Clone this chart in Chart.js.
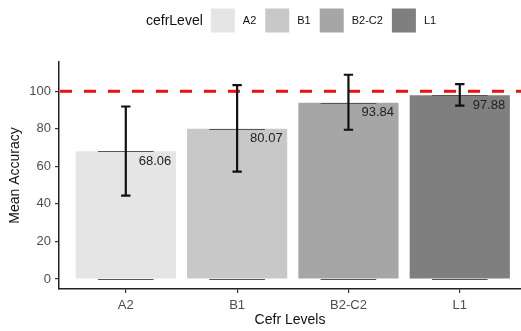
<!DOCTYPE html>
<html>
<head>
<meta charset="utf-8">
<script src="https://cdn.jsdelivr.net/npm/chart.js@4.4.0/dist/chart.umd.min.js"></script>
<style>
  html, body { margin: 0; padding: 0; background: #fff; }
  #wrap { width: 521px; height: 331px; }
</style>
</head>
<body>
<div id="wrap"><canvas id="grafico"></canvas></div>
<script>
const categories = ['A2', 'B1', 'B2-C2', 'L1'];
const meanAccuracy = [68.06, 80.07, 93.84, 97.88];
const errorLow = [44.4, 57.2, 79.5, 92.4];
const errorHigh = [91.9, 103.3, 108.8, 103.8];
const yTicks = [0, 20, 40, 60, 80, 100];
const referenceLine = 100;
const fillColors = ['#e5e5e5', '#c8c8c8', '#a6a6a6', '#7f7f7f'];
const legendTitle = 'cefrLevel';

const FONT = '"Liberation Sans", Arial, sans-serif';

// barras de erro, linhas de média, linha de referência e rótulos
const overlay = {
  id: 'overlay',
  afterDatasetsDraw(chart) {
    const { ctx, chartArea } = chart;
    const x = chart.scales.x, y = chart.scales.y;
    const step = x.getPixelForValue(1) - x.getPixelForValue(0);
    ctx.save();

    ctx.strokeStyle = '#555';
    ctx.lineWidth = 1;
    categories.forEach((c, i) => {
      const cx = x.getPixelForValue(i);
      [0, meanAccuracy[i]].forEach(v => {
        const py = Math.round(y.getPixelForValue(v)) + 0.5;
        ctx.beginPath();
        ctx.moveTo(cx - step * 0.25, py);
        ctx.lineTo(cx + step * 0.25, py);
        ctx.stroke();
      });
    });

    const ry = y.getPixelForValue(referenceLine);
    ctx.strokeStyle = '#ee1111';
    ctx.lineWidth = 3;
    ctx.setLineDash([12, 12]);
    ctx.beginPath();
    ctx.moveTo(chartArea.left + 1, ry);
    ctx.lineTo(chartArea.right, ry);
    ctx.stroke();
    ctx.setLineDash([]);

    ctx.strokeStyle = '#111';
    ctx.lineWidth = 2.2;
    const cap = step * 0.042;
    categories.forEach((c, i) => {
      const cx = x.getPixelForValue(i);
      const top = y.getPixelForValue(errorHigh[i]);
      const bot = y.getPixelForValue(errorLow[i]);
      ctx.beginPath();
      ctx.moveTo(cx, top); ctx.lineTo(cx, bot);
      ctx.moveTo(cx - cap, top); ctx.lineTo(cx + cap, top);
      ctx.moveTo(cx - cap, bot); ctx.lineTo(cx + cap, bot);
      ctx.stroke();
    });

    ctx.fillStyle = '#222';
    ctx.font = '13px ' + FONT;
    ctx.textAlign = 'left';
    ctx.textBaseline = 'middle';
    categories.forEach((c, i) => {
      const cx = x.getPixelForValue(i);
      const py = y.getPixelForValue(meanAccuracy[i]);
      ctx.fillText(meanAccuracy[i].toFixed(2), cx + 13, py + 10);
    });
    ctx.restore();
  }
};

// legenda horizontal no topo
const topLegend = {
  id: 'topLegend',
  afterDraw(chart) {
    const ctx = chart.ctx;
    ctx.save();
    ctx.textBaseline = 'middle';
    ctx.textAlign = 'left';
    ctx.fillStyle = '#111';
    ctx.font = '14px ' + FONT;
    let lx = 146;
    const cy = 21;
    ctx.fillText(legendTitle, lx, cy);
    lx += ctx.measureText(legendTitle).width + 8;
    ctx.font = '11px ' + FONT;
    categories.forEach((c, i) => {
      ctx.fillStyle = fillColors[i];
      ctx.fillRect(lx, 8.5, 24, 24);
      lx += 24 + 8;
      ctx.fillStyle = '#111';
      ctx.fillText(c, lx, cy);
      lx += ctx.measureText(c).width + 9;
    });
    ctx.restore();
  }
};

new Chart(document.getElementById('grafico'), {
  type: 'bar',
  data: {
    datasets: [{
      label: legendTitle,
      data: categories.map((c, i) => ({ x: i, y: meanAccuracy[i] })),
      backgroundColor: fillColors,
      borderWidth: 0,
      barPercentage: 0.9,
      categoryPercentage: 1
    }]
  },
  options: {
    responsive: true,
    maintainAspectRatio: false,
    animation: false,
    devicePixelRatio: 1,
    layout: { padding: { top: 62, left: 0, right: 0, bottom: 0 } },
    plugins: {
      legend: { display: false },
      tooltip: { enabled: false }
    },
    scales: {
      x: {
        type: 'linear',
        min: -0.6,
        max: 3.55,
        offset: false,
        afterBuildTicks: s => { s.ticks = categories.map((c, i) => ({ value: i })); },
        afterFit: s => { s.height = 42; },
        ticks: {
          callback: v => categories[v] ?? '',
          font: { size: 13, family: FONT },
          color: '#4d4d4d',
          padding: 5,
          maxRotation: 0,
          autoSkip: false
        },
        grid: { display: true, drawOnChartArea: false, drawTicks: true, tickLength: 4, color: '#333', lineWidth: 1.2, offset: false },
        border: { display: true, color: '#222', width: 1.5 },
        title: { display: true, text: 'Cefr Levels', font: { size: 14, family: FONT }, color: '#111', padding: { top: 0, bottom: 2 } }
      },
      y: {
        min: -5.33,
        max: 115.6,
        afterBuildTicks: s => { s.ticks = yTicks.map(v => ({ value: v })); },
        afterFit: s => { s.width = 59; },
        ticks: {
          font: { size: 13, family: FONT },
          color: '#4d4d4d',
          padding: 4
        },
        grid: { display: true, drawOnChartArea: false, drawTicks: true, tickLength: 4, color: '#333', lineWidth: 1.2 },
        border: { display: true, color: '#222', width: 1.5 },
        title: { display: true, text: 'Mean Accuracy', font: { size: 14, family: FONT }, color: '#111', padding: { top: 7, bottom: 0 } }
      }
    }
  },
  plugins: [overlay, topLegend]
});
</script>
</body>
</html>
